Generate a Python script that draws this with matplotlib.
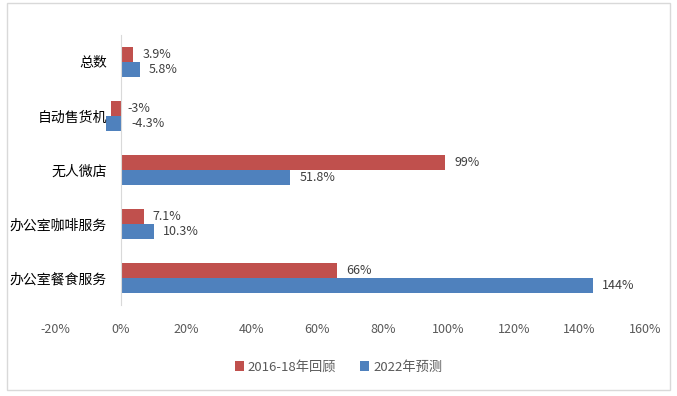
import matplotlib.pyplot as plt
import matplotlib.patches as patches
import numpy as np

plt.rcParams['font.family'] = ['Noto Sans CJK SC', 'DejaVu Sans']

categories = ["总数", "自动售货机", "无人微店", "办公室咖啡服务", "办公室餐食服务"]
review = [3.9, -3, 99, 7.1, 66]        # 2016-18年回顾
forecast = [5.8, -4.3, 51.8, 10.3, 144]  # 2022年预测
review_labels = ["3.9%", "-3%", "99%", "7.1%", "66%"]
forecast_labels = ["5.8%", "-4.3%", "51.8%", "10.3%", "144%"]
xticks = list(range(-20, 161, 20))

red = "#C0504D"
blue = "#4F81BD"

fig = plt.figure(figsize=(6.77, 3.96), dpi=100)
ax = fig.add_axes([55 / 677, 1 - 305 / 396, 590 / 677, 270 / 396])

y = np.arange(len(categories))
h = 0.27
ax.barh(y - h / 2, review, height=h, color=red, label="2016-18年回顾")
ax.barh(y + h / 2, forecast, height=h, color=blue, label="2022年预测")

for vals, labs, off in [(review, review_labels, -h / 2), (forecast, forecast_labels, h / 2)]:
    for i, (v, t) in enumerate(zip(vals, labs)):
        dx = 9 if v >= 0 else -3
        ax.annotate(t, (abs(v), i + off), xytext=(dx, 0), textcoords="offset pixels",
                    ha="left", va="center", fontsize=9, color="#404040")

ax.set_xlim(-20, 160)
ax.set_ylim(len(categories) - 0.5, -0.5)
ax.set_xticks(xticks)
ax.set_xticklabels([f"{t}%" for t in xticks], fontsize=9, color="#595959")
ax.set_yticks(y)
ax.set_yticklabels(categories, fontsize=11, color="#5a5a5a")
ax.tick_params(axis="x", length=0, pad=13)
ax.tick_params(axis="y", length=0, pad=10)

for s in ["top", "right", "bottom"]:
    ax.spines[s].set_visible(False)
ax.spines["left"].set_position(("data", 0))
ax.spines["left"].set_color("#D9D9D9")

fig.legend(loc="center", bbox_to_anchor=(0.5, 1 - 367 / 396), ncol=2, frameon=False,
           fontsize=9.5, handlelength=0.7, handleheight=0.7, columnspacing=1.8,
           handletextpad=0.3, labelcolor="#595959")

fig.patches.append(patches.Rectangle((7 / 677, 1 - 390 / 396), 663 / 677, 387 / 396,
                                     transform=fig.transFigure, fill=False,
                                     edgecolor="#D9D9D9", linewidth=1))

fig.savefig("out.png", dpi=100)
